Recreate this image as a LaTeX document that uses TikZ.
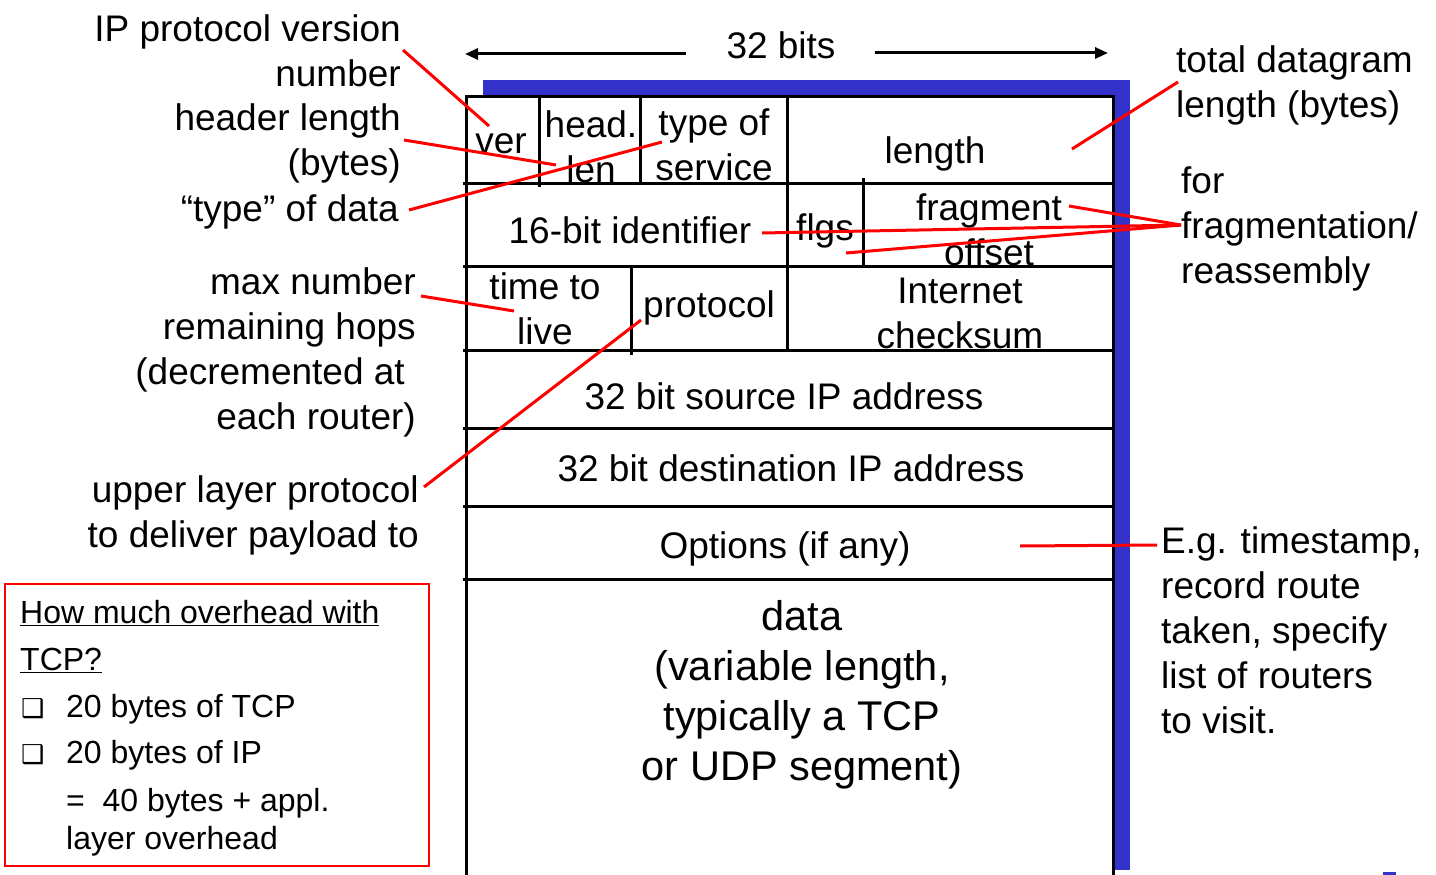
\documentclass[tikz,border=0pt]{standalone}
\usepackage{fontspec}
\setmainfont{Liberation Sans}
\newfontfamily\boxglyph{DejaVu Sans}
\usetikzlibrary{arrows.meta}

\definecolor{shadowblue}{RGB}{51,51,204}
\definecolor{callout}{RGB}{255,0,0}

\begin{document}
\begin{tikzpicture}[
  x=1pt, y=-1pt,
  font=\fontsize{37}{45}\selectfont,
  field/.style={line width=3pt},
  cell/.style={inner sep=0pt, align=center},
  lbl/.style={inner sep=0pt},
  pointer/.style={draw=callout, line width=3pt},
  dim/.style={line width=3pt, -{Triangle[length=13pt,width=11pt]}},
  note/.style={inner sep=0pt, anchor=base west, font=\fontsize{32}{46}\selectfont},
  tick/.style={inner sep=0pt, anchor=base west, font=\boxglyph\fontsize{26}{30}\selectfont},
]
\useasboundingbox (0,0) rectangle (1436,875);

% --- header frame with its blue drop shadow
\fill[shadowblue] (483,80) rectangle (1130,870);
\fill[white] (466,97) rectangle (1113,875);
\draw[field] (466,875) -- (466,97) -- (1113,97) -- (1113,875);
\foreach \y in {183,266,350,428,506,579}
  \draw[field] (463,\y) -- (1113,\y);
\draw[field] (539,97) -- (539,187);
\draw[field] (640,97) -- (640,183);
\draw[field] (787,97) -- (787,350);
\draw[field] (863,178) -- (863,266);
\draw[field] (631,266) -- (631,355);

% --- width marker above the frame
\node (bits) at (781,45) {32 bits};
\coordinate (bitsl) at (686,54);
\coordinate (bitsr) at (875,53);
\coordinate (edgel) at (465,54);
\coordinate (edger) at (1108,53);
\draw[dim] (bitsl) -- (edgel);
\draw[dim] (bitsr) -- (edger);

% --- field names
\node[cell] (ver) at (501,144) {ver};
\node[cell] (hlen) at (591,147) {head.\\len};
\node[cell] (tos) at (714,145) {type of\\service};
\node[cell] (len) at (935,154) {length};
\node[cell] (ident) at (630,230) {16-bit identifier};
\node[cell] (flgs) at (825,231) {flgs};
\node[cell] (frag) at (989,230) {fragment\\offset};
\node[cell] (ttl) at (545,309) {time to\\live};
\node[cell] (proto) at (709,308) {protocol};
\node[cell] (csum) at (960,313) {Internet\\checksum};
\node[cell] (src) at (784,396) {32 bit source IP address};
\node[cell] (dst) at (791,468) {32 bit destination IP address};
\node[cell] (opts) at (785,549) {Options (if any)};
\node[cell, font=\fontsize{41.5}{50}\selectfont] (data) at (802,695)
  {data\\(variable length,\\typically a TCP\\or UDP segment)};

% --- explanations, left
\node[lbl, align=right, anchor=east] (lblver) at (401,51) {IP protocol version\\number};
\node[lbl, align=right, anchor=east] (lblhlen) at (401,143) {header length\\(bytes)};
\node[lbl, align=right, anchor=east] (lbltos) at (399,212) {“type” of data};
\node[lbl, align=right, anchor=east] (lblttl) at (416,352)
  {max number\\remaining hops\\(decremented at\kern11pt\\each router)};
\node[lbl, align=right, anchor=east] (lblproto) at (419,515) {upper layer protocol\\to deliver payload to};

% --- explanations, right
\node[lbl, align=left, anchor=west] (lbllen) at (1176,85) {total datagram\\length (bytes)};
\node[lbl, align=left, anchor=west] (lblfrag) at (1181,229) {for\\fragmentation/\\reassembly};
\node[lbl, align=left, anchor=west] (lblopt) at (1161,630)
  {E.g. timestamp,\\record route\\taken, specify\\list of routers\\to visit.};

% --- red pointers
\coordinate (fver) at (489,126);
\coordinate (fhlen) at (556,165);
\coordinate (ftos) at (662,142);
\coordinate (pttl) at (421,296);
\coordinate (fttl) at (514,311);
\coordinate (pproto) at (424,487);
\coordinate (fproto) at (641,320);
\coordinate (pver) at (403,50);
\coordinate (phlen) at (404,140);
\coordinate (ptos) at (409,210);
\coordinate (plen) at (1178,82);
\coordinate (pfrag) at (1181,225);
\coordinate (flen) at (1072,149);
\coordinate (ffrag) at (1069,206);
\coordinate (fid) at (762,233);
\coordinate (fflg) at (846,253);
\coordinate (popt) at (1157,545);
\coordinate (fopt) at (1020,546);
\draw[pointer] (pver) -- (fver);
\draw[pointer] (phlen) -- (fhlen);
\draw[pointer] (ptos) -- (ftos);
\draw[pointer] (pttl) -- (fttl);
\draw[pointer] (pproto) -- (fproto);
\draw[pointer] (plen) -- (flen);
\draw[pointer] (pfrag) -- (ffrag);
\draw[pointer] (pfrag) -- (fid);
\draw[pointer] (pfrag) -- (fflg);
\draw[pointer] (popt) -- (fopt);

% --- overhead box, bottom left
\draw[callout, line width=1.5pt] (5,584) rectangle (429,866);
\node[note] (q1) at (20,623) {\underline{How much overhead with}};
\node[note] (q2) at (20,670) {\underline{TCP?}};
\node[tick] (b1) at (21,717) {❑};
\node[note] (t1) at (66,717) {20 bytes of TCP};
\node[tick] (b2) at (21,763) {❑};
\node[note] (t2) at (66,763) {20 bytes of IP};
\node[note] (t3) at (66,811) {= \ 40 bytes + appl.};
\node[note] (t4) at (66,849) {layer overhead};

% --- stray mark at the lower edge
\fill[shadowblue] (1383,872) rectangle (1396,875);

\end{tikzpicture}
\end{document}
